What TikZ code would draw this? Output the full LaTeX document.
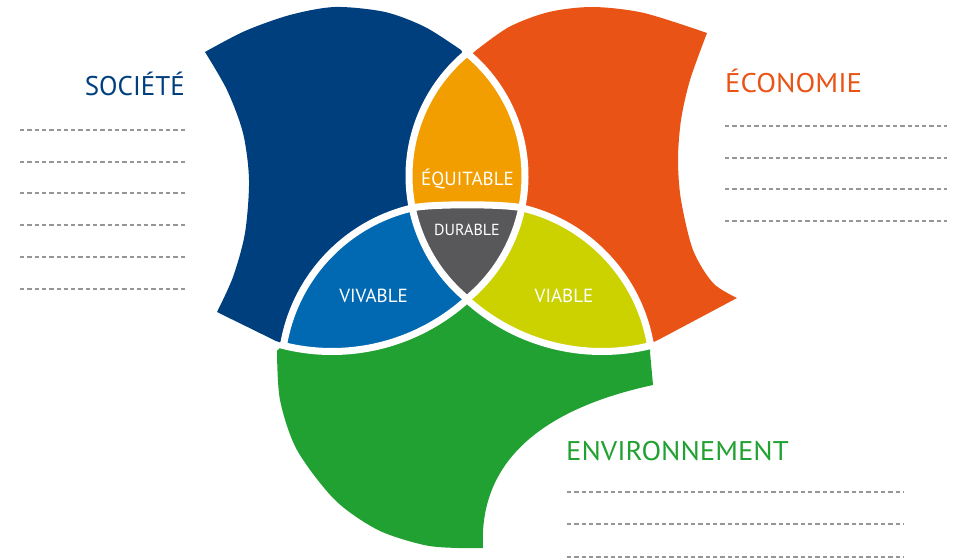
\documentclass[tikz,border=0pt]{standalone}
\usepackage{fontspec}
\setmainfont{PT Sans}
\definecolor{cBlue}{RGB}{0,63,125}
\definecolor{cOrange}{RGB}{233,83,22}
\definecolor{cGreen}{RGB}{33,161,49}
\definecolor{cEqui}{RGB}{243,158,0}
\definecolor{cViva}{RGB}{0,105,177}
\definecolor{cViab}{RGB}{203,210,0}
\definecolor{cDura}{RGB}{88,88,90}
\definecolor{cDash}{RGB}{150,150,150}
\begin{document}
\begin{tikzpicture}[x=1pt,y=-1pt,
  wline/.style={draw=white,line width=7pt},
  dashline/.style={draw=cDash,line width=1.3pt,dash pattern=on 4.3pt off 3pt},
  title/.style={inner sep=0pt,font=\fontsize{27}{30}\selectfont},
  inlbl/.style={inner sep=0pt,text=white,anchor=base,font=\fontsize{19}{22}\selectfont}]
\useasboundingbox (0,0) rectangle (953,559);
% junction points
\coordinate (JBL) at (283.8,343.6);
\coordinate (JOR) at (650.2,343.6);
\coordinate (JLg) at (412.6,207.8);
\coordinate (JRg) at (521.4,207.8);
\coordinate (JL) at (412.04,206.96);
\coordinate (JR) at (521.96,206.96);
\coordinate (JB) at (467,299);
% outer shapes
\fill[cBlue] plot[smooth] coordinates {(205,52) (245,31) (290,15) (335,7) (385,12) (425,27) (461,50)}
  -- (467,60) -- (JB) -- (JBL) -- (276,341) -- (217,312)
  -- plot[smooth] coordinates {(217,312) (233,277) (245,233) (249,180) (243,133) (227,90) (205,52)} -- cycle;
\fill[cOrange] plot[smooth] coordinates {(474,52) (509,27) (549,12) (593,7) (644,13) (707,33)}
  -- plot[smooth] coordinates {(707,33) (690,80) (681,120) (678,160) (681,200) (693,250) (713,283) (737,298)}
  -- (658,340) -- (JOR) -- (JB) -- (467,60) -- cycle;
\fill[cGreen] (277,351) -- plot[smooth] coordinates {(277,351) (280,400) (297,450) (335,500) (378,530) (424,545) (457,548) (483,548)}
  .. controls (478,450) and (560,405) .. (653,385)
  -- (650,352) -- (JOR) -- (JB) -- (JBL) -- cycle;
% equitable lens
\begin{scope}
  \clip (568.4,176) circle[radius=159.4];
  \fill[cEqui] (365.6,176) circle[radius=159.4];
\end{scope}
% vivable
\fill[cViva] (JBL) arc[start angle=190,end angle=257,radius=169.5] -- (JL)
  arc[start angle=168.8,end angle=129.5,radius=159.4]
  arc[start angle=47.8,end angle=103.6,radius=201.5] -- cycle;
% viable
\fill[cViab] (JOR) arc[start angle=350,end angle=283,radius=169.5] -- (JR)
  arc[start angle=11.2,end angle=50.5,radius=159.4]
  arc[start angle=132.2,end angle=76.4,radius=201.5] -- cycle;
% durable
\fill[cDura] (JLg) .. controls (430.1,203.8) and (503.9,203.8) .. (JRg) -- (JR)
  arc[start angle=11.2,end angle=50.5,radius=159.4]
  arc[start angle=129.5,end angle=168.8,radius=159.4] -- cycle;
% white separators
\draw[wline] (568.4,176) ++(232:159.4) arc[start angle=232,end angle=129.5,radius=159.4];
\draw[wline] (365.6,176) ++(-52:159.4) arc[start angle=-52,end angle=50.5,radius=159.4];
\draw[wline] (JBL) arc[start angle=190,end angle=257,radius=169.5]
  .. controls (430.1,203.8) and (503.9,203.8) .. (JRg)
  arc[start angle=283,end angle=350,radius=169.5];
\draw[wline] (332,150) ++(47.8:201.5) arc[start angle=47.8,end angle=105,radius=201.5];
\draw[wline] (602,150) ++(132.2:201.5) arc[start angle=132.2,end angle=75,radius=201.5];
% inner labels
\node[inlbl] (equitable) at (467.5,185) {ÉQUITABLE};
\node[inlbl,font=\fontsize{16}{19}\selectfont] (durable) at (467,235) {DURABLE};
\node[inlbl] (vivable) at (373.5,302) {VIVABLE};
\node[inlbl] (viable) at (564,302) {VIABLE};
% titles
\node[title,text=cBlue,anchor=base east] (societe) at (185,96) {SOCIÉTÉ};
\node[title,text=cOrange,anchor=base west] (economie) at (725,93) {\scalebox{1.07}[1]{ÉCONOMIE}};
\node[title,text=cGreen,anchor=base west] (environnement) at (566,460) {\scalebox{1.065}[1]{ENVIRONNEMENT}};
% dashed writing lines
\foreach \yy in {130,162,193,225,257,289} \draw[dashline] (20,\yy) -- (185,\yy);
\foreach \yy in {126,158,189,221} \draw[dashline] (725,\yy) -- (947,\yy);
\foreach \yy in {492,524,557} \draw[dashline] (567,\yy) -- (904,\yy);
\end{tikzpicture}
\end{document}
